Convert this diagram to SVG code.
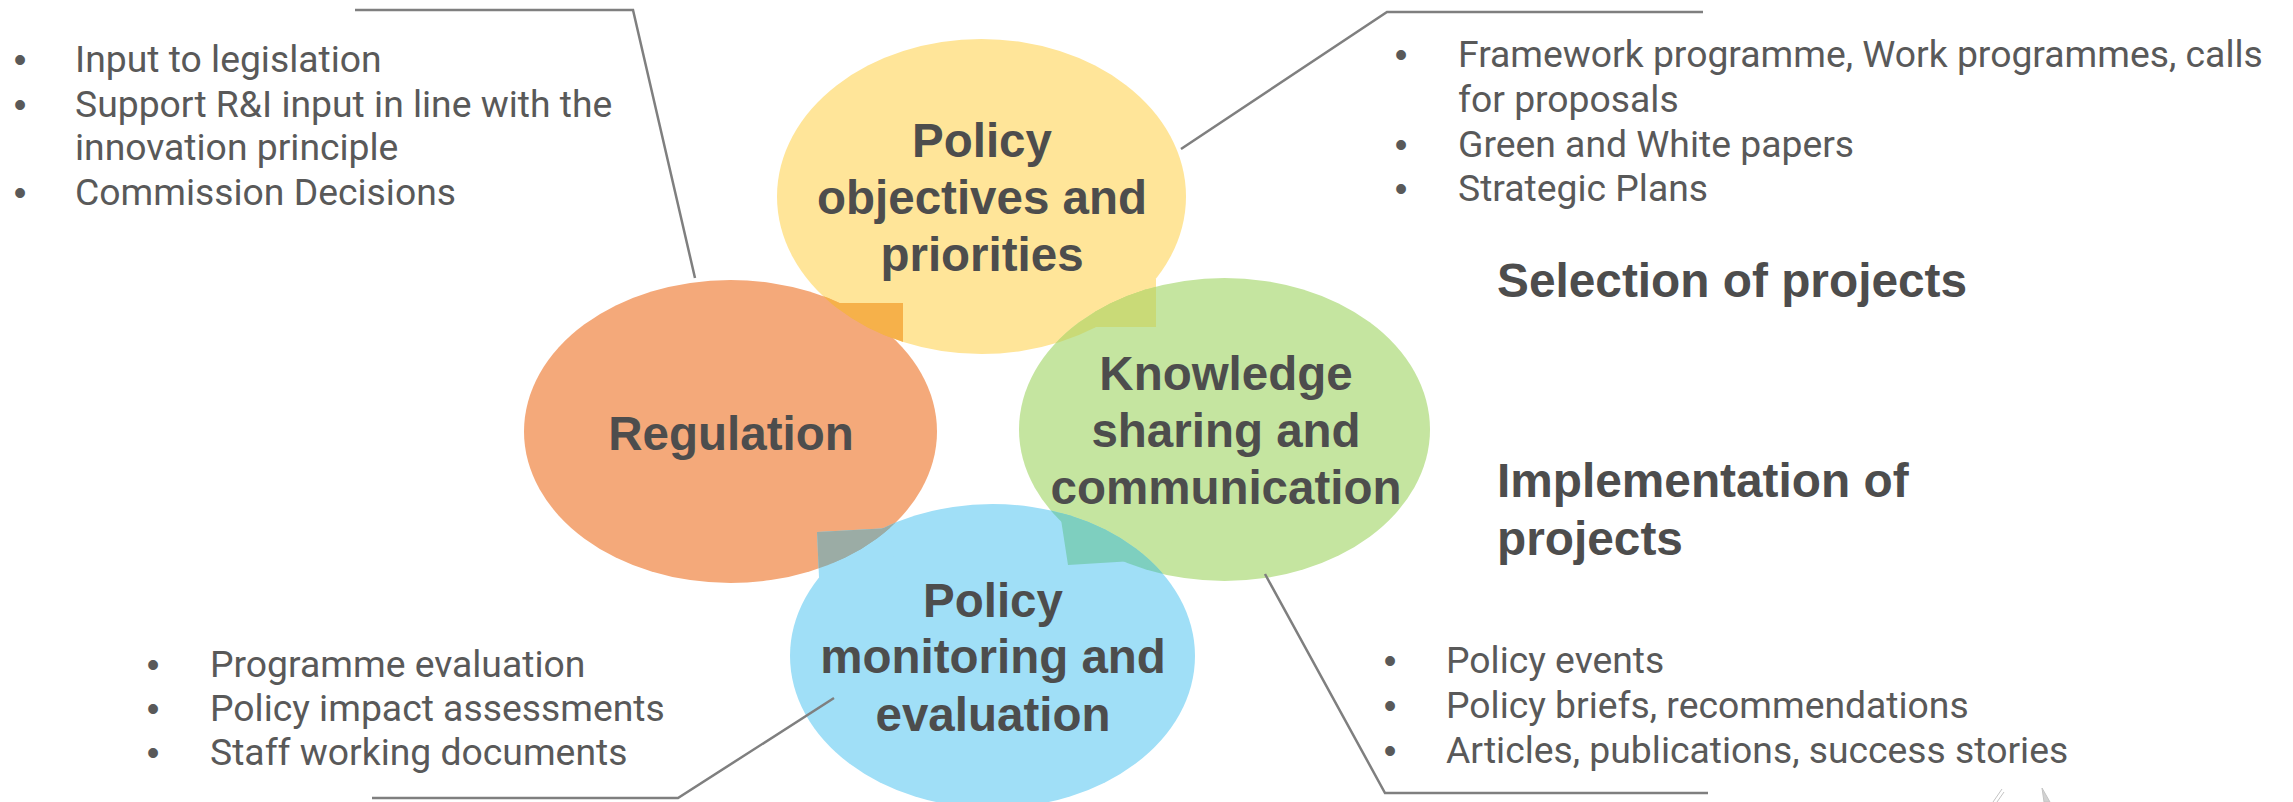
<svg xmlns="http://www.w3.org/2000/svg" width="2293" height="802" viewBox="0 0 2293 802">
<style>
.lt{font-family:Roboto,"Liberation Sans",sans-serif;font-weight:400;font-size:37.3px;fill:#595959}
.bul{font-family:"Liberation Sans",Arial,sans-serif;font-size:36px;fill:#595959;text-anchor:middle}
.bd{font-family:"Liberation Sans",Arial,sans-serif;font-weight:bold;font-size:47.5px;fill:#4D4D4D;text-anchor:middle}
.hd{font-family:"Liberation Sans",Arial,sans-serif;font-weight:bold;font-size:47.8px;fill:#4D4D4D}
.conn{fill:none;stroke:#7F7F7F;stroke-width:2.5}
</style>
<defs>
<clipPath id="cpY"><ellipse cx="981.5" cy="196.5" rx="204.5" ry="157.5"/></clipPath>
<clipPath id="cpO"><ellipse cx="730.5" cy="431.5" rx="206.5" ry="151.5"/></clipPath>
<clipPath id="cpG"><ellipse cx="1224.5" cy="429.5" rx="205.5" ry="151.5"/></clipPath>
<clipPath id="cpB"><ellipse cx="992.5" cy="656" rx="202.5" ry="152"/></clipPath>
</defs>

<g id="node-policy-objectives">
<ellipse cx="981.5" cy="196.5" rx="204.5" ry="157.5" fill="#FFE599"/>
<rect x="1095" y="279" width="61" height="48" fill="#FFE599"/>
</g>
<g id="node-regulation">
<ellipse cx="730.5" cy="431.5" rx="206.5" ry="151.5" fill="#F4A97A"/>
</g>
<g id="node-knowledge-sharing">
<ellipse cx="1224.5" cy="429.5" rx="205.5" ry="151.5" fill="#C5E5A0"/>
<polygon points="1058,500 1068,565 1125,561.5 1162,573 1185,500" fill="#C5E5A0"/>
</g>
<g id="node-monitoring">
<ellipse cx="992.5" cy="656" rx="202.5" ry="152" fill="#A0DFF7"/>
<polygon points="817,532 890,528 900,600 820,600" fill="#A0DFF7"/>
</g>

<g id="overlaps">
<g clip-path="url(#cpY)" fill="#F6B14A">
<ellipse cx="730.5" cy="431.5" rx="206.5" ry="151.5"/>
<rect x="800" y="303" width="103" height="45"/>
</g>
<g clip-path="url(#cpG)" fill="#C9DA77">
<ellipse cx="981.5" cy="196.5" rx="204.5" ry="157.5"/>
<rect x="1095" y="279" width="61" height="48"/>
</g>
<g clip-path="url(#cpO)" fill="#9BACA5">
<ellipse cx="992.5" cy="656" rx="202.5" ry="152"/>
<polygon points="817,532 890,528 900,600 820,600"/>
</g>
<g clip-path="url(#cpB)" fill="#7ECFBF">
<ellipse cx="1224.5" cy="429.5" rx="205.5" ry="151.5"/>
<polygon points="1058,500 1068,565 1125,561.5 1162,573 1185,500"/>
</g>
</g>

<g id="labels">
<text class="bd"><tspan x="982" y="157">Policy</tspan><tspan x="982" y="214">objectives and</tspan><tspan x="982" y="271">priorities</tspan></text>
<text class="bd" x="731" y="450">Regulation</text>
<text class="bd"><tspan x="1226" y="390">Knowledge</tspan><tspan x="1226" y="447">sharing and</tspan><tspan x="1226" y="504">communication</tspan></text>
<text class="bd"><tspan x="993" y="617">Policy</tspan><tspan x="993" y="673">monitoring and</tspan><tspan x="993" y="731">evaluation</tspan></text>
</g>

<g id="connectors">
<polyline class="conn" points="355,10 633,10 695,278"/>
<polyline class="conn" points="1181,149 1387,12 1703,12"/>
<polyline class="conn" points="834,698 678,798 372,798"/>
<polyline class="conn" points="1265,574 1385,793 1708,793"/>
</g>

<g id="list-regulation">
<text class="bul" x="20" y="72">•</text>
<text class="bul" x="20" y="117">•</text>
<text class="bul" x="20" y="205">•</text>
<text class="lt" x="75" y="72">Input to legislation</text>
<text class="lt" x="75" y="117">Support R&amp;I input in line with the</text>
<text class="lt" x="75" y="160">innovation principle</text>
<text class="lt" x="75" y="205">Commission Decisions</text>
</g>

<g id="list-policy-objectives">
<text class="bul" x="1401" y="67">•</text>
<text class="bul" x="1401" y="157">•</text>
<text class="bul" x="1401" y="201">•</text>
<text class="lt" x="1458" y="67">Framework programme, Work programmes, calls</text>
<text class="lt" x="1458" y="112">for proposals</text>
<text class="lt" x="1458" y="157">Green and White papers</text>
<text class="lt" x="1458" y="201">Strategic Plans</text>
</g>

<g id="headings">
<text class="hd" x="1497" y="297">Selection of projects</text>
<text class="hd" x="1497" y="497">Implementation of</text>
<text class="hd" x="1497" y="555">projects</text>
</g>

<g id="list-monitoring">
<text class="bul" x="153" y="677">•</text>
<text class="bul" x="153" y="721">•</text>
<text class="bul" x="153" y="765">•</text>
<text class="lt" x="210" y="677">Programme evaluation</text>
<text class="lt" x="210" y="721">Policy impact assessments</text>
<text class="lt" x="210" y="765">Staff working documents</text>
</g>

<g id="list-knowledge">
<text class="bul" x="1390" y="673">•</text>
<text class="bul" x="1390" y="718">•</text>
<text class="bul" x="1390" y="763">•</text>
<text class="lt" x="1446" y="673">Policy events</text>
<text class="lt" x="1446" y="718">Policy briefs, recommendations</text>
<text class="lt" x="1446" y="763">Articles, publications, success stories</text>
</g>

<g id="corner-marks" fill="none" stroke="#C4C4C4" stroke-width="1">
<path d="M1993,802 L2002,789 M1997,802 L2004,792"/>
<path d="M2042,788 L2050,802 L2044,802 Z" fill="#D2D2D2"/>
</g>
</svg>
